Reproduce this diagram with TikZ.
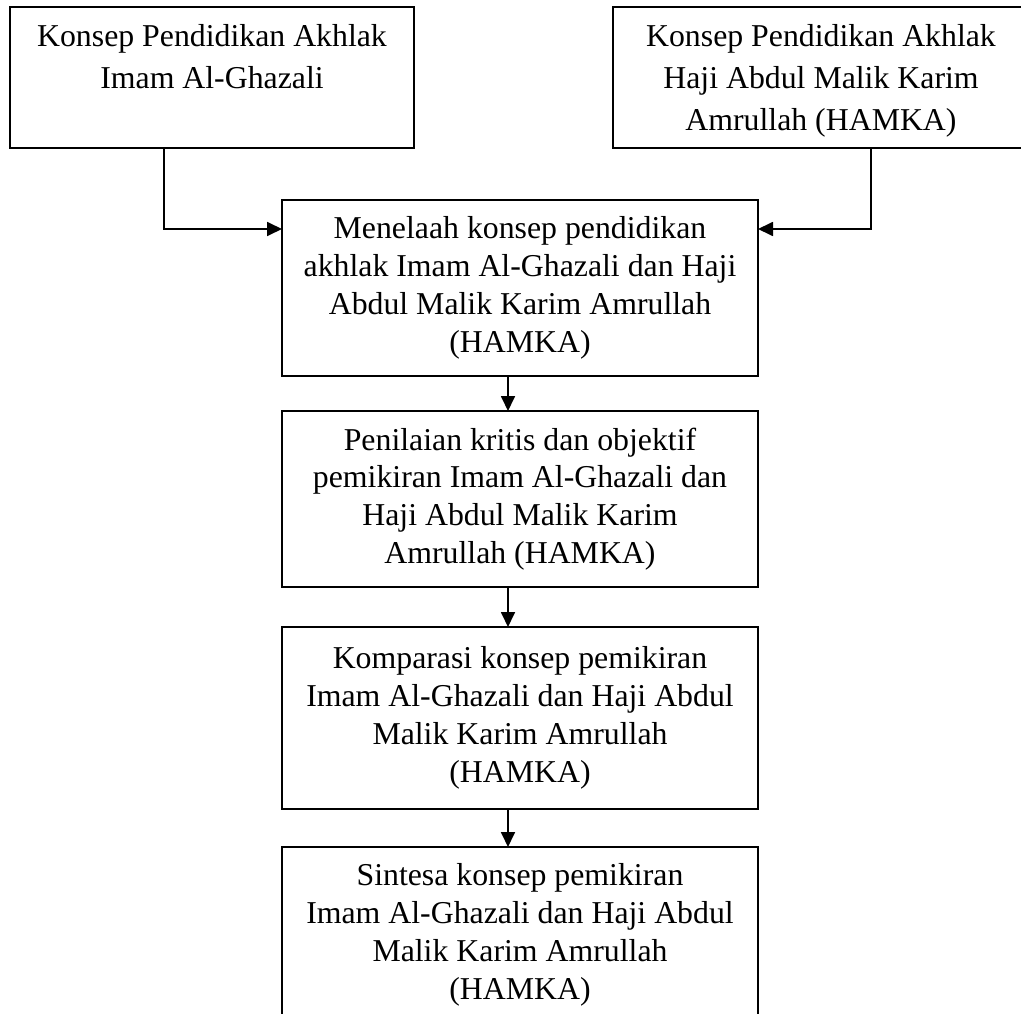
\documentclass[tikz,border=0pt]{standalone}
\usepackage{fontspec}
\setmainfont{Liberation Serif}
\usetikzlibrary{arrows.meta}
\begin{document}
\begin{tikzpicture}[x=1pt,y=-1pt,
  boxnode/.style={draw=black, line width=1.8pt, inner sep=0pt, outer sep=0pt},
  toptext/.style={inner sep=0pt, align=center, anchor=north, font=\fontsize{31.8}{42}\selectfont},
  midtext/.style={align=center, font=\fontsize{31.8}{37.8}\selectfont},
  arr/.style={line width=1.8pt, -{Triangle[length=15pt,width=14pt]}}]
\useasboundingbox (0,0) rectangle (1021,1014);
\clip (0,0) rectangle (1021,1014);
% top boxes
\node[boxnode, minimum width=404, minimum height=141] (b1) at (212,77.5) {};
\node[toptext] (t1) at (212,24) {Konsep Pendidikan Akhlak\\Imam Al-Ghazali};
\node[boxnode, minimum width=416, minimum height=141] (b2) at (821,77.5) {};
\node[toptext] (t2) at (821,24) {Konsep Pendidikan Akhlak\\Haji Abdul Malik Karim\\Amrullah (HAMKA)};
% middle column
\node[boxnode, midtext, minimum width=476, minimum height=176] (b3) at (520,288)
  {Menelaah konsep pendidikan\\akhlak Imam Al-Ghazali dan Haji\\Abdul Malik Karim Amrullah\\(HAMKA)};
\node[boxnode, midtext, minimum width=476, minimum height=176] (b4) at (520,499)
  {Penilaian kritis dan objektif\\pemikiran Imam Al-Ghazali dan\\Haji Abdul Malik Karim\\Amrullah (HAMKA)};
\node[boxnode, midtext, minimum width=476, minimum height=182] (b5) at (520,718)
  {Komparasi konsep pemikiran\\Imam Al-Ghazali dan Haji Abdul\\Malik Karim Amrullah\\(HAMKA)};
\node[boxnode, midtext, minimum width=476, minimum height=176] (b6) at (520,935)
  {Sintesa konsep pemikiran\\Imam Al-Ghazali dan Haji Abdul\\Malik Karim Amrullah\\(HAMKA)};
% connectors
\coordinate (j1) at (164,229);
\coordinate (j2) at (871,229);
\coordinate (ax) at (508,0);
\draw[arr] (b1.south -| j1) |- (b3.west |- j1);
\draw[arr] (b2.south -| j2) |- (b3.east |- j2);
\draw[arr] (b3.south -| ax) -- (b4.north -| ax);
\draw[arr] (b4.south -| ax) -- (b5.north -| ax);
\draw[arr] (b5.south -| ax) -- (b6.north -| ax);
\end{tikzpicture}
\end{document}
